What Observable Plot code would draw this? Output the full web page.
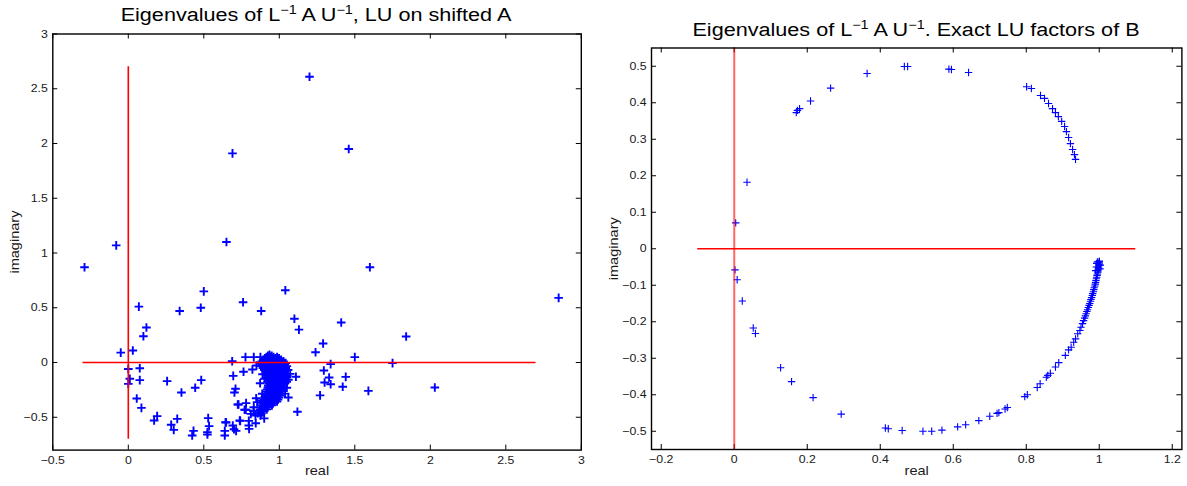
<!DOCTYPE html>
<html><head><meta charset="utf-8">
<script src="https://cdn.jsdelivr.net/npm/d3@7"></script>
<script src="https://cdn.jsdelivr.net/npm/@observablehq/plot@0.6"></script>
<style>
body{margin:0;background:#fff;}
#wrap{position:relative;width:1187px;height:486px;font-family:"Liberation Sans",Arial,Helvetica,sans-serif;overflow:hidden;background:#fff}
.p{position:absolute;top:0}
.title{position:absolute;font-size:18px;white-space:nowrap;transform:translateX(-50%) scaleX(1.2);transform-origin:50% 50%;color:#000;line-height:20px}
.title sup{font-size:12px;vertical-align:0;position:relative;top:-7px}
</style></head>
<body>
<div id="wrap">
  <div class="p" id="left" style="left:0px"></div>
  <div class="p" id="right" style="left:600px"></div>
  <div class="title" style="left:316px;top:5px">Eigenvalues of L<sup>−1</sup> A U<sup>−1</sup>, LU on shifted A</div>
  <div class="title" style="left:916px;top:20px">Eigenvalues of L<sup>−1</sup> A U<sup>−1</sup>. Exact LU factors of B</div>
</div>
<script>
// ---------- LEFT PANEL DATA (real, imaginary) ----------
const leftOutliers = [
  [1.20,2.61],[0.69,1.91],[1.46,1.95],[-0.08,1.07],[0.65,1.10],[-0.29,0.87],[1.60,0.87],
  [2.85,0.59],[0.50,0.65],[1.04,0.66],[0.76,0.55],[0.88,0.47],[0.07,0.51],[0.34,0.47],
  [0.48,0.50],[1.10,0.40],[1.13,0.30],[1.41,0.365],[1.84,0.237],[0.12,0.32],[0.10,0.24],
  [1.29,0.174],[1.24,0.094],[1.50,0.049],[-0.05,0.09],[0.03,0.11],[1.75,-0.006],[1.34,-0.015],
  [1.295,-0.073],[1.33,-0.137],[1.44,-0.131],[1.30,-0.183],[1.34,-0.198],[1.42,-0.222],
  [1.59,-0.259],[2.03,-0.228],[1.27,-0.30],[1.12,-0.45],[1.11,-0.13],[1.06,-0.32]
];
const leftArc = [
  [0.00,-0.06],[0.076,-0.052],[0.01,-0.149],[0.076,-0.161],[0.0,-0.195],[0.257,-0.17],
  [0.483,-0.161],[0.443,-0.231],[0.352,-0.274],[0.056,-0.329],[0.087,-0.414],[0.191,-0.49],
  [0.171,-0.53],[0.324,-0.515],[0.284,-0.569],[0.301,-0.615],[0.432,-0.624],[0.423,-0.667],
  [0.529,-0.508],[0.535,-0.581],[0.524,-0.636],[0.524,-0.658],[0.639,-0.624],[0.639,-0.667],
  [0.648,-0.548],[0.714,-0.624],[0.70,-0.61],[0.692,-0.575],[0.741,-0.533],[0.695,-0.122],
  [0.71,-0.24],[0.703,-0.274],[0.763,-0.085],[0.822,-0.064],[0.73,-0.384],[0.78,-0.371],
  [0.778,-0.432],[0.798,-0.533],[0.798,-0.575],[0.80,-0.606],[0.844,-0.555],[0.842,-0.484],
  [0.829,-0.444],[0.853,-0.362],[0.887,-0.438],[0.688,0.012],[0.776,0.049],[0.831,0.049],
  [0.875,0.049],[0.849,-0.027],[0.889,-0.107],[0.873,-0.189],[0.902,-0.149],[0.887,-0.286],
  [0.847,-0.326],[0.887,-0.347],[0.831,-0.408],[0.811,-0.469],[0.875,-0.484],[0.90,-0.51],
  [0.644,-0.545],[0.738,-0.530],[0.77,-0.432],[0.725,-0.384]
];
// dense cluster near 1: rows of [imaginary, [real parts]]
const leftClusterRows = [
  [0.07,[0.935]],
  [0.062,[0.925,0.95]],
  [0.05,[0.915,0.94,0.962,0.985]],
  [0.038,[0.905,0.93,0.952,0.975,0.998]],
  [0.024,[0.893,0.918,0.944,0.968,0.99,1.012]],
  [0.01,[0.884,0.909,0.934,0.957,0.982,1.006,1.028]],
  [-0.004,[0.872,0.898,0.924,0.948,0.973,0.997,1.021,1.042]],
  [-0.018,[0.886,0.912,0.937,0.962,0.988,1.013,1.036]],
  [-0.033,[0.879,0.903,0.929,0.953,0.978,1.003,1.027,1.05]],
  [-0.05,[0.892,0.918,0.943,0.968,0.994,1.018,1.043]],
  [-0.068,[0.902,0.927,0.952,0.977,1.001,1.027,1.058]],
  [-0.086,[0.909,0.934,0.958,0.984,1.009,1.036]],
  [-0.104,[0.914,0.94,0.964,0.99,1.016,1.046,1.072]],
  [-0.122,[0.921,0.946,0.971,0.996,1.022,1.052]],
  [-0.14,[0.918,0.943,0.968,0.993,1.018,1.043]],
  [-0.158,[0.927,0.951,0.976,1.001,1.028,1.06]],
  [-0.176,[0.924,0.948,0.973,0.998,1.024,1.049]],
  [-0.194,[0.931,0.956,0.981,1.006,1.034]],
  [-0.212,[0.927,0.951,0.977,1.002,1.029]],
  [-0.23,[0.924,0.948,0.973,0.997,1.024,1.05]],
  [-0.248,[0.92,0.944,0.969,0.993,1.019]],
  [-0.266,[0.916,0.94,0.965,0.989,1.014]],
  [-0.284,[0.912,0.936,0.96,0.985,1.008,1.038]],
  [-0.302,[0.907,0.931,0.956,0.98,1.003]],
  [-0.32,[0.903,0.927,0.951,0.975,0.998]],
  [-0.338,[0.899,0.923,0.947,0.97,0.992]],
  [-0.356,[0.894,0.918,0.942,0.964,0.985]],
  [-0.374,[0.889,0.913,0.936,0.958]],
  [-0.392,[0.884,0.907,0.93,0.951]],
  [-0.41,[0.879,0.902,0.924]],
  [-0.428,[0.872,0.896,0.917]],
  [-0.446,[0.866,0.889]],
  [-0.464,[0.858,0.881]]
];
const leftXTicks = [-0.5,0,0.5,1,1.5,2,2.5,3];
const leftXTickLabels = ["−0.5","0","0.5","1","1.5","2","2.5","3"];
const leftYTicks = [-0.5,0,0.5,1,1.5,2,2.5,3];
const leftYTickLabels = ["−0.5","0","0.5","1","1.5","2","2.5","3"];
const leftXDomain = [-0.5,3], leftYDomain = [-0.8,3];
const leftHLine = [{x1:-0.3,x2:2.7,y:0}];
const leftVLine = [{x:0,y1:-0.7,y2:2.7}];

// ---------- RIGHT PANEL DATA ----------
const rightUpper = [
  [0.004,0.071],[0.035,0.182],[0.170,0.373],[0.173,0.379],[0.179,0.384],[0.209,0.405],
  [0.264,0.440],[0.364,0.480],[0.466,0.4995],[0.475,0.4995],[0.588,0.492],[0.595,0.491],
  [0.642,0.483],[0.801,0.444],[0.814,0.439],[0.839,0.420],[0.850,0.412],[0.861,0.398],
  [0.872,0.384],[0.880,0.373],[0.888,0.362],[0.897,0.349],[0.905,0.335],[0.910,0.321],
  [0.916,0.305],[0.921,0.288],[0.927,0.272],[0.932,0.258],[0.935,0.245]
];
const rightLower = [
  [0.002,-0.058],[0.008,-0.085],[0.022,-0.143],[0.052,-0.217],[0.058,-0.232],[0.127,-0.326],
  [0.157,-0.364],[0.216,-0.408],[0.293,-0.453],[0.414,-0.491],[0.422,-0.493],[0.460,-0.498],
  [0.517,-0.500],[0.541,-0.500],[0.569,-0.497],[0.612,-0.488],[0.634,-0.482],[0.670,-0.471],
  [0.700,-0.459],[0.720,-0.451],[0.725,-0.449],[0.742,-0.439],[0.748,-0.435],[0.796,-0.405],
  [0.803,-0.400],[0.830,-0.380],[0.838,-0.370],[0.855,-0.352],[0.859,-0.347],[0.866,-0.341],
  [0.880,-0.324],[0.889,-0.312],[0.907,-0.292],[0.916,-0.277],[0.923,-0.270],[0.930,-0.256],
  [0.935,-0.247],[0.941,-0.233],[0.947,-0.224],[0.950,-0.215]
];
const rightDense = [
  [0.954,-0.205],[0.957,-0.197],[0.960,-0.19],[0.962,-0.184],[0.964,-0.178],[0.966,-0.172],
  [0.968,-0.167],[0.970,-0.161],[0.972,-0.155],[0.974,-0.150],[0.976,-0.144],[0.977,-0.139],
  [0.979,-0.134],[0.981,-0.128],[0.982,-0.123],[0.984,-0.118],[0.985,-0.112],[0.986,-0.107],
  [0.988,-0.102],[0.989,-0.097],[0.990,-0.092],[0.991,-0.087],[0.992,-0.082],[0.993,-0.078],
  [0.994,-0.073],[0.995,-0.069],[0.996,-0.064],[0.996,-0.060],[0.997,-0.056],[0.998,-0.052],
  [0.998,-0.048],[0.999,-0.045],[0.999,-0.042],[1.0,-0.039],[1.0,-0.036],[1.0,-0.034],
  [0.993,-0.040],[0.995,-0.036],[1.003,-0.045],[1.002,-0.055],[0.992,-0.05],[0.990,-0.06]
];
const rightXTicks = [-0.2,0,0.2,0.4,0.6,0.8,1,1.2];
const rightXTickLabels = ["−0.2","0","0.2","0.4","0.6","0.8","1","1.2"];
const rightYTicks = [-0.5,-0.4,-0.3,-0.2,-0.1,0,0.1,0.2,0.3,0.4,0.5];
const rightYTickLabels = ["−0.5","−0.4","−0.3","−0.2","−0.1","0","0.1","0.2","0.3","0.4","0.5"];
const rightXDomain = [-0.2267,1.2264], rightYDomain = [-0.55,0.55];
const rightHLine = [{x1:-0.1,x2:1.1,y:0}];
const rightVLine = [{x:0}];

// ---------- helpers ----------
const plusSym = {draw(ctx, size){ const r = Math.sqrt(size/Math.PI); ctx.moveTo(-r,0); ctx.lineTo(r,0); ctx.moveTo(0,-r); ctx.lineTo(0,r); }};
const toRows = arr => arr.map(([re,im]) => ({re, im}));
const leftData = toRows(leftOutliers).concat(toRows(leftArc),
  leftClusterRows.flatMap(([im, res]) => res.map(re => ({re, im}))));
const rightData = toRows(rightUpper).concat(toRows(rightLower), toRows(rightDense));

const TEXT_STRETCH = 1.12;
function stretchText(svg) {
  svg.querySelectorAll("text").forEach(el => {
    const t = el.getAttribute("transform");
    if (t) el.setAttribute("transform", t + ` scale(${TEXT_STRETCH},1)`);
    else {
      const x = +(el.getAttribute("x") || 0);
      el.removeAttribute("x");
      el.setAttribute("transform", `translate(${x},0) scale(${TEXT_STRETCH},1)`);
    }
  });
  return svg;
}

function panel({width, height, ml, mr, mt, mb, xDomain, yDomain, xTicks, xLabels, yTicks, yLabels, data, hLine, vLine, vFull, r, sw, vOpacity, vWidth}) {
  const fw = width - ml - mr, fh = height - mt - mb;
  const fmt = (ticks, labels) => d => labels[ticks.findIndex(t => Math.abs(t - d) < 1e-9)];
  const marks = [
    Plot.ruleX(xTicks, {x: d => d, insetTop: fh - 5, stroke: "#000", strokeWidth: 1}),
    Plot.ruleX(xTicks, {x: d => d, insetBottom: fh - 5, stroke: "#000", strokeWidth: 1}),
    Plot.ruleY(yTicks, {y: d => d, insetRight: fw - 5, stroke: "#000", strokeWidth: 1}),
    Plot.ruleY(yTicks, {y: d => d, insetLeft: fw - 5, stroke: "#000", strokeWidth: 1}),
    Plot.axisX(xTicks, {tickSize: 0, tickPadding: 6, tickFormat: fmt(xTicks, xLabels), label: null, fontSize: 11, fill: "#1a1a1a"}),
    Plot.axisY(yTicks, {tickSize: 0, tickPadding: 5, tickFormat: fmt(yTicks, yLabels), label: null, fontSize: 11, fill: "#1a1a1a"}),
    Plot.dot(data, {x: "re", y: "im", symbol: plusSym, r, stroke: "#0000ff", strokeWidth: sw, fill: "none"}),
    Plot.ruleY(hLine, {y: "y", x1: "x1", x2: "x2", stroke: "#ff0000", strokeWidth: 1.6}),
    vFull
      ? Plot.ruleX(vLine, {x: "x", stroke: "#ff0000", strokeWidth: vWidth, strokeOpacity: vOpacity})
      : Plot.ruleX(vLine, {x: "x", y1: "y1", y2: "y2", stroke: "#ff0000", strokeWidth: vWidth, strokeOpacity: vOpacity}),
    Plot.frame({stroke: "#000", strokeWidth: 1.4}),
    Plot.text(["imaginary"], {frameAnchor: "left", rotate: -90, dx: -38, textAnchor: "middle", fontSize: 13, fill: "#1a1a1a"}),
    Plot.text(["real"], {frameAnchor: "bottom", dy: 25, textAnchor: "middle", fontSize: 13, fill: "#1a1a1a"})
  ];
  return stretchText(Plot.plot({
    width, height, marginLeft: ml, marginRight: mr, marginTop: mt, marginBottom: mb,
    x: {domain: xDomain, axis: null},
    y: {domain: yDomain, axis: null},
    style: {fontFamily: "'Liberation Sans', Arial, Helvetica, sans-serif", fontSize: "11px", background: "transparent", overflow: "visible", color: "#000"},
    marks
  }));
}

document.getElementById("left").appendChild(panel({
  width: 600, height: 486, ml: 52.3, mr: 19.2, mt: 33.5, mb: 36.4,
  xDomain: leftXDomain, yDomain: leftYDomain, xTicks: leftXTicks, xLabels: leftXTickLabels,
  yTicks: leftYTicks, yLabels: leftYTickLabels, data: leftData, hLine: leftHLine, vLine: leftVLine,
  vFull: false, r: 4.3, sw: 1.9, vOpacity: 1, vWidth: 1.6
}));
document.getElementById("right").appendChild(panel({
  width: 587, height: 486, ml: 51, mr: 5.6, mt: 47.5, mb: 37,
  xDomain: rightXDomain, yDomain: rightYDomain, xTicks: rightXTicks, xLabels: rightXTickLabels,
  yTicks: rightYTicks, yLabels: rightYTickLabels, data: rightData, hLine: rightHLine, vLine: rightVLine,
  vFull: true, r: 3.7, sw: 1.1, vOpacity: 0.6, vWidth: 2
}));
</script>
</body></html>
